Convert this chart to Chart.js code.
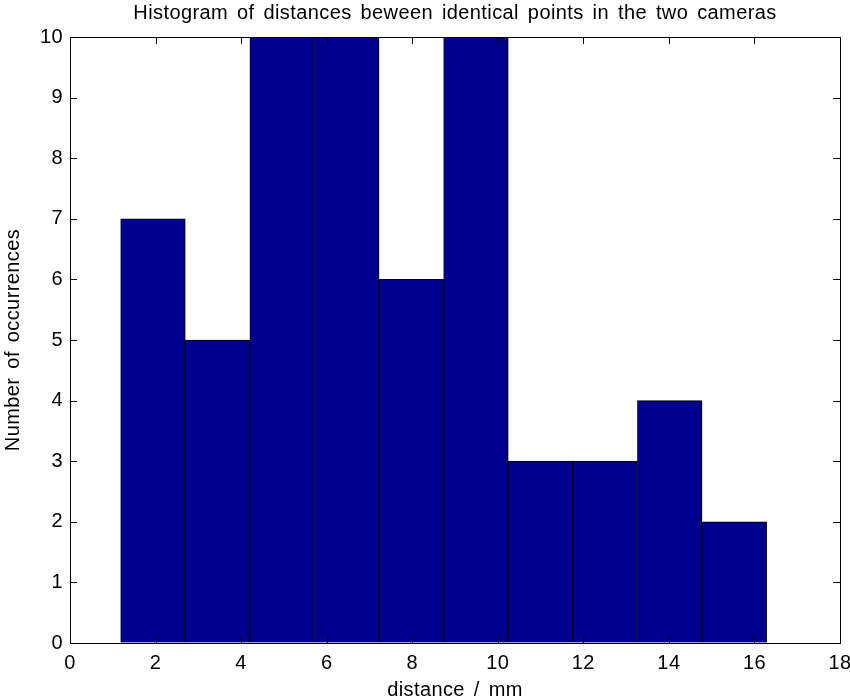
<!DOCTYPE html>
<html>
<head>
<meta charset="utf-8">
<script src="https://cdn.jsdelivr.net/npm/chart.js@4.4.0/dist/chart.umd.min.js"></script>
<style>
  html, body { margin: 0; padding: 0; background: #ffffff; }
  #wrap { width: 850px; height: 700px; }
</style>
</head>
<body>
<div id="wrap"><canvas id="chart" width="850" height="700"></canvas></div>
<script>
// Histogram bins (centre of each bin, in mm) and their counts
const binCenters = [1.94, 3.45, 4.96, 6.47, 7.98, 9.49, 11.00, 12.51, 14.02, 15.53];
const counts = [7, 5, 12, 13, 6, 11, 3, 3, 4, 2];

// Axis ticks
const xTicks = [0, 2, 4, 6, 8, 10, 12, 14, 16, 18];
const yTicks = [0, 1, 2, 3, 4, 5, 6, 7, 8, 9, 10];

const titleText = 'Histogram of distances beween identical points in the two cameras';
const xLabel = 'distance / mm';
const yLabel = 'Number of occurrences';

const FONT = "'Liberation Sans', Arial, Helvetica, sans-serif";
Chart.defaults.font.family = FONT;
Chart.defaults.color = '#000000';

// Slightly looser text spacing, applied before measuring and drawing
const textSpacing = {
  id: 'textSpacing',
  beforeLayout(chart) { chart.ctx.letterSpacing = '0.4px'; chart.ctx.wordSpacing = '3px'; },
  beforeDraw(chart) { chart.ctx.letterSpacing = '0.4px'; chart.ctx.wordSpacing = '3px'; }
};

// Axes box with inward tick marks on all four sides
const boxTicks = {
  id: 'boxTicks',
  afterDraw(chart) {
    const { ctx, chartArea: a, scales: { x, y } } = chart;
    const len = 7;
    ctx.save();
    ctx.strokeStyle = '#000000';
    ctx.lineWidth = 1;
    ctx.beginPath();
    xTicks.forEach(v => {
      const px = Math.round(x.getPixelForValue(v)) + 0.5;
      ctx.moveTo(px, a.bottom); ctx.lineTo(px, a.bottom - len);
      ctx.moveTo(px, a.top); ctx.lineTo(px, a.top + len);
    });
    yTicks.forEach(v => {
      const py = Math.round(y.getPixelForValue(v)) + 0.5;
      ctx.moveTo(a.left, py); ctx.lineTo(a.left + len, py);
      ctx.moveTo(a.right, py); ctx.lineTo(a.right - len, py);
    });
    ctx.stroke();
    ctx.strokeRect(Math.round(a.left) + 0.5, Math.round(a.top) + 0.5,
                   Math.round(a.right - a.left), Math.round(a.bottom - a.top));
    ctx.restore();
  }
};

new Chart(document.getElementById('chart'), {
  type: 'bar',
  data: {
    datasets: [{
      data: binCenters.map((c, i) => ({ x: c, y: counts[i] })),
      backgroundColor: '#00008f',
      borderColor: '#000000',
      borderWidth: 1,
      barPercentage: 1,
      categoryPercentage: 1,
      clip: 0
    }]
  },
  options: {
    responsive: false,
    animation: false,
    layout: { padding: { left: 0, right: 10, top: 0, bottom: 0 } },
    plugins: {
      legend: { display: false },
      tooltip: { enabled: false },
      title: {
        display: true,
        fullSize: false,
        text: titleText,
        color: '#000000',
        font: { size: 20, weight: 'normal', family: FONT },
        padding: { top: 1, bottom: 12 }
      }
    },
    scales: {
      x: {
        type: 'linear',
        offset: false,
        min: 0,
        max: 18,
        afterBuildTicks: s => { s.ticks = xTicks.map(v => ({ value: v })); },
        afterFit: s => { s.height = 57; s.paddingLeft = 0; s.paddingRight = 0; },
        grid: { display: true, drawOnChartArea: false, drawTicks: false },
        border: { display: false },
        ticks: { font: { size: 20 }, padding: 8, maxRotation: 0, autoSkip: false },
        title: { display: true, text: xLabel, font: { size: 20, lineHeight: 1 }, padding: { top: 0, bottom: 0 } }
      },
      y: {
        min: 0,
        max: 10,
        afterBuildTicks: s => { s.ticks = yTicks.map(v => ({ value: v })); },
        afterFit: s => { s.width = 70; s.paddingTop = 0; s.paddingBottom = 0; },
        grid: { display: true, drawOnChartArea: false, drawTicks: false },
        border: { display: false },
        ticks: { font: { size: 20 }, padding: 7, autoSkip: false },
        title: { display: true, text: yLabel, font: { size: 20, lineHeight: 1 }, padding: { top: 3, bottom: 0 } }
      }
    }
  },
  plugins: [textSpacing, boxTicks]
});
</script>
</body>
</html>
